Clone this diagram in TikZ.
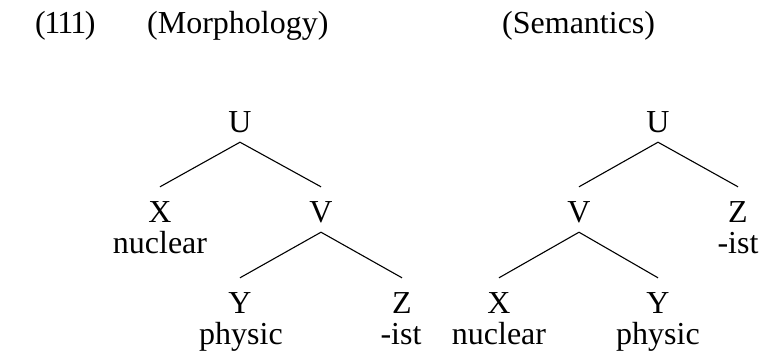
\documentclass[tikz,border=0pt]{standalone}
\usepackage{fontspec}
\setmainfont{Liberation Serif}
\begin{document}
\begin{tikzpicture}[x=1pt,y=-1pt,
  every node/.style={font=\fontsize{32}{38}\selectfont, inner sep=0pt},
  cat/.style={anchor=base, text height=25pt, text depth=0pt, inner ysep=10pt, inner xsep=0pt},
  word/.style={anchor=base},
  title/.style={anchor=base west},
  branch/.style={draw=black, line width=1.1pt}]
\useasboundingbox (0,0) rectangle (760,362);
% titles
\node[title] (num) at (35,33) {(\kern-1.5pt1\kern-3pt1\kern-3pt1\kern-1.5pt)};
\node[title] (morph) at (147,33) {(Morphology)};
\node[title] (sem) at (502,33) {(Semantics)};
% left tree (morphology)
\node[cat] (lU) at (240,132) {U};
\node[cat] (lX) at (160,222) {X};
\node[cat] (lV) at (321,222) {V};
\node[cat] (lY) at (240,313) {Y};
\node[cat] (lZ) at (402,313) {Z};
\node[word] (lnuc) at (160,253) {nuclear};
\node[word] (lphy) at (241,344) {physic};
\node[word] (list) at (401,344) {-ist};
\draw[branch] (lU.south) -- (lX.north);
\draw[branch] (lU.south) -- (lV.north);
\draw[branch] (lV.south) -- (lY.north);
\draw[branch] (lV.south) -- (lZ.north);
% right tree (semantics)
\node[cat] (rU) at (658,132) {U};
\node[cat] (rV) at (579,222) {V};
\node[cat] (rZ) at (738,222) {Z};
\node[cat] (rX) at (499,313) {X};
\node[cat] (rY) at (658,313) {Y};
\node[word] (rist) at (738,253) {-ist};
\node[word] (rnuc) at (499,344) {nuclear};
\node[word] (rphy) at (658,344) {physic};
\draw[branch] (rU.south) -- (rV.north);
\draw[branch] (rU.south) -- (rZ.north);
\draw[branch] (rV.south) -- (rX.north);
\draw[branch] (rV.south) -- (rY.north);
\end{tikzpicture}
\end{document}
